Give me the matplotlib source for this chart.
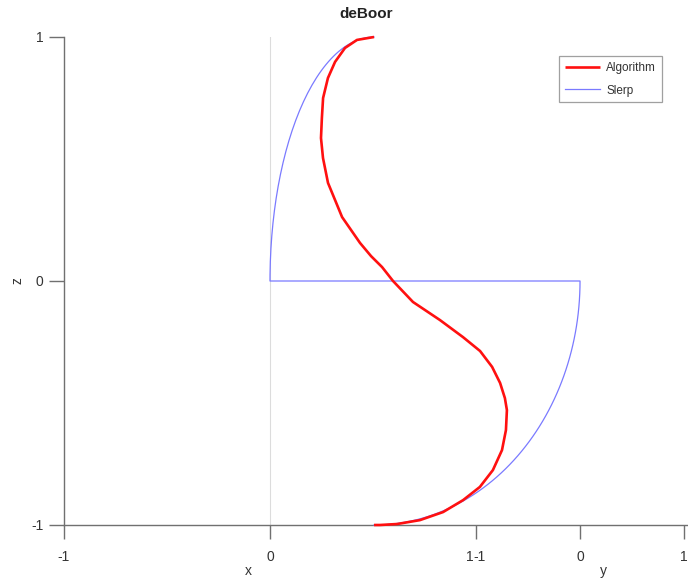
import numpy as np
import matplotlib
matplotlib.use("Agg")
import matplotlib.pyplot as plt
from matplotlib.transforms import offset_copy

plt.rcParams['font.family'] = ['Liberation Sans', 'DejaVu Sans']

# rotation keyframes (unit vectors) interpolated by slerp
keys = np.array([[0.0, 0.0, 1.0],
                 [0.0, -1.0, 0.0],
                 [1.0, 0.0, 0.0],
                 [0.0, 0.0, -1.0]])

# curve returned by the de Boor evaluation
alg_x = [0.000, -0.004, 0.009, 0.033, 0.055, 0.084, 0.118, 0.145, 0.179, 0.225, 0.307, 0.390, 0.437, 0.481,
         0.523, 0.593, 0.681, 0.747, 0.789, 0.810, 0.815, 0.808, 0.795, 0.757, 0.703, 0.625, 0.534, 0.441,
         0.321, 0.191, 0.089, 0.023, 0.000]
alg_y = [0.000, -0.156, -0.297, -0.440, -0.552, -0.656, -0.735, -0.797, -0.845, -0.888, -0.915, -0.907,
         -0.894, -0.875, -0.853, -0.800, -0.715, -0.624, -0.543, -0.469, -0.402, -0.342, -0.297, -0.231,
         -0.162, -0.095, -0.040, -0.017, 0.028, 0.063, 0.045, 0.012, 0.000]
alg_z = [1.000, 0.988, 0.955, 0.898, 0.832, 0.750, 0.668, 0.586, 0.504, 0.402, 0.262, 0.156, 0.102, 0.057,
         0.000, -0.086, -0.160, -0.230, -0.287, -0.352, -0.418, -0.480, -0.529, -0.611, -0.693, -0.775,
         -0.844, -0.898, -0.947, -0.980, -0.996, -1.000, -1.000]

axis_ticks = [-1, 0, 1]
K = 0.505  # depth factor of the y axis


def slerp(p, q, n=60):
    om = np.arccos(np.clip(np.dot(p, q), -1, 1))
    t = np.linspace(0, 1, n)[:, None]
    return (np.sin((1 - t) * om) * p + np.sin(t * om) * q) / np.sin(om)


def proj(x, y):
    return np.asarray(x) + K * (np.asarray(y) + 1)


slerp_pts = np.vstack([slerp(keys[i], keys[i + 1]) for i in range(len(keys) - 1)])

fig = plt.figure(figsize=(6.88, 5.83), dpi=100)
ax = fig.add_axes([64 / 688, 58 / 583, 624 / 688, 488 / 583])
ax.set_xlim(-1, -1 + 624 / 206)
ax.set_ylim(-1, 1)

axcol = '#707070'
txtcol = '#333333'
for s in ['top', 'right']:
    ax.spines[s].set_visible(False)
for s in ['left', 'bottom']:
    ax.spines[s].set_color(axcol)
    ax.spines[s].set_linewidth(1.0)

# light reference line at x = 0
ax.plot([proj(0, -1)] * 2, [-1, 1], color='#dcdcdc', lw=0.8, zorder=1)

ax.plot(proj(slerp_pts[:, 0], slerp_pts[:, 1]), slerp_pts[:, 2], color='#7a7aff', lw=0.9,
        label='Slerp', zorder=3, clip_on=False)
ax.plot(proj(alg_x, alg_y), alg_z, color='#ff1010', lw=1.9, label='Algorithm', zorder=4,
        clip_on=False, solid_capstyle='butt', solid_joinstyle='round')

# x axis ticks and the y axis ticks continuing to its right
xt = [proj(v, -1) for v in axis_ticks] + [proj(1, v) for v in axis_ticks[1:]]
xl = ['-1', '0', ''] + ['0', '1']
ax.set_xticks(xt)
ax.set_xticklabels(xl)
ax.set_yticks(axis_ticks)
ax.set_yticklabels([str(v) for v in axis_ticks])
ax.tick_params(axis='x', length=10, width=1, color=axcol, pad=8, labelsize=10, labelcolor=txtcol)
ax.tick_params(axis='y', length=11, width=1, color=axcol, pad=4, labelsize=10, labelcolor=txtcol)

# x = 1 and y = -1 share one tick
for lab, dx in [('1', -6), ('-1', 4)]:
    tr = offset_copy(ax.transData, fig=fig, x=dx, y=-25, units='dots')
    ax.text(proj(1, -1), -1, lab, transform=tr, ha='center', va='top', fontsize=10, color=txtcol)

fig.text(248 / 688, 1 - 571 / 583, 'x', ha='center', va='center', fontsize=10, color=txtcol)
fig.text(603 / 688, 1 - 571 / 583, 'y', ha='center', va='center', fontsize=10, color=txtcol)
fig.text(18 / 688, 1 - 281 / 583, 'z', ha='center', va='center', fontsize=10, color=txtcol, rotation=90)
fig.text(366 / 688, 1 - 14 / 583, 'deBoor', ha='center', va='center', fontsize=11,
         fontweight='bold', color='#222222')

h, l = ax.get_legend_handles_labels()
leg = ax.legend(h[::-1], l[::-1], loc='upper left', bbox_to_anchor=(559 / 688, 1 - 56 / 583),
                bbox_transform=fig.transFigure, fontsize=8.5, frameon=True, fancybox=False,
                handlelength=3.0, handletextpad=0.5, borderpad=0.5, labelspacing=0.9,
                borderaxespad=0)
leg.get_frame().set_edgecolor('#888888')
leg.get_frame().set_linewidth(0.9)
for t in leg.get_texts():
    t.set_color(txtcol)

fig.savefig('out.png', dpi=100)
